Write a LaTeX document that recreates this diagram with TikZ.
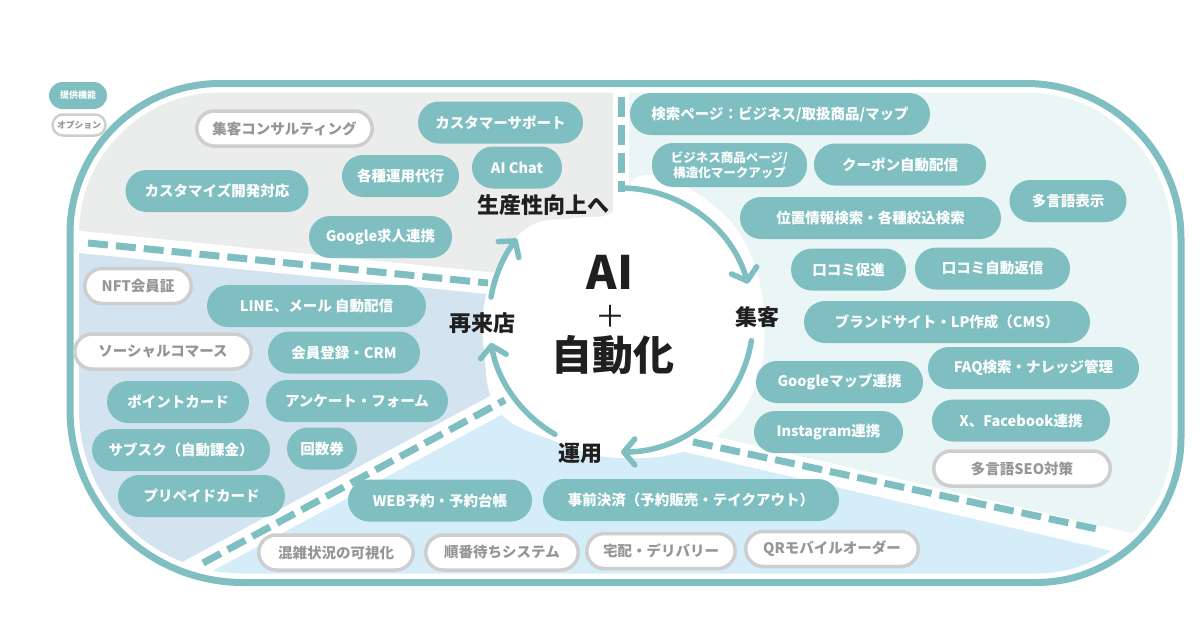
\documentclass[tikz,border=0pt]{standalone}
\usepackage{fontspec}
\setmainfont{Noto Sans CJK JP}
\usetikzlibrary{arrows.meta}
\definecolor{teal1}{RGB}{127,191,193}
\definecolor{optgray}{RGB}{206,206,206}
\definecolor{opttext}{RGB}{150,150,150}
\definecolor{zonegray}{RGB}{235,236,236}
\definecolor{zoneblue}{RGB}{211,227,240}
\definecolor{zonesky}{RGB}{212,237,248}
\definecolor{zoneteal}{RGB}{234,245,245}
\newcommand{\fs}[1]{\fontsize{#1}{#1}\selectfont}

\begin{document}
\begin{tikzpicture}[x=1pt, y=-1pt]

\tikzstyle{every node} = [inner sep=0pt]
\tikzstyle{func} = [rectangle, rounded corners=21pt, fill=teal1, text=white, minimum height=42pt, font=\fs{14.5}\bfseries]
\tikzstyle{opt} = [rectangle, rounded corners=17.5pt, draw=optgray, line width=3.5pt, fill=white, text=opttext, minimum height=35pt, font=\fs{14.5}\bfseries]
\tikzstyle{cyc} = [font=\fs{22}\bfseries, text=black!88]
\tikzstyle{gap} = [white, line width=22pt]
\tikzstyle{sep} = [teal1, line width=7pt, dash pattern=on 20pt off 8pt]
\tikzstyle{flow} = [teal1, line width=5.5pt, line cap=round, -{Straight Barb[length=11pt,width=26pt,line cap=round,round]}]

\useasboundingbox (0,0) rectangle (1200,630);

\begin{scope}
\clip (220,92.5) -- (1026,92.5) arc[start angle=-90, end angle=0, radius=146]
  -- (1172,437.5) arc[start angle=0, end angle=90, radius=136]
  -- (243,573.5) arc[start angle=90, end angle=180, radius=164]
  -- (79,233.5) arc[start angle=180, end angle=270, radius=141] -- cycle;
\fill[zonegray] (0,0) -- (617,0) -- (617,296) -- (0,234) -- cycle;
\fill[zoneteal] (617,0) -- (1200,0) -- (1200,560) -- (617,425) -- cycle;
\fill[zoneblue] (0,234) -- (617,296) -- (617,340) -- (0,673) -- cycle;
\fill[zonesky] (0,673) -- (617,340) -- (617,425) -- (1200,560) -- (1200,700) -- (0,700) -- cycle;
\end{scope}

\draw[gap] (60,240) -- (617,296);
\draw[gap, line width=16pt] (621,80) -- (621,215);
\draw[gap] (150,592) -- (617,340);
\draw[gap] (617,425) -- (1200,560);

\fill[white] plot[smooth cycle, tension=0.7] coordinates {(613,212) (640,176) (695,192) (745,243) (764,320) (752,395) (700,445) (620,458) (552,440) (498,410) (484,350) (485,300) (500,262) (530,226) (575,218)};

\draw[sep] (88,243) -- (488,283);
\draw[sep] (621,97) -- (621,192);
\draw[sep] (203,563) -- (505,400);
\draw[sep] (693,442) -- (1097,529);

\draw[teal1, line width=7pt] (220,83.5) -- (1026,83.5) arc[start angle=-90, end angle=0, radius=155]
  -- (1181,437.5) arc[start angle=0, end angle=90, radius=145]
  -- (243,582.5) arc[start angle=90, end angle=180, radius=173]
  -- (70,233.5) arc[start angle=180, end angle=270, radius=150] -- cycle;

\coordinate (o) at (621,320);
\draw[flow] (o) ++(-88:132) arc[start angle=-88, end angle=-16, radius=132];
\draw[flow] (o) ++(9:132) arc[start angle=9, end angle=90, radius=132];
\draw[flow] (o) ++(120:132) arc[start angle=120, end angle=170, radius=132];
\draw[flow] (o) ++(190:132) arc[start angle=190, end angle=218, radius=132];

\node[cyc] (up) at (543,205) {生産性向上へ};
\node[cyc] (in) at (757,317) {集客};
\node[cyc] (run) at (580,453) {運用};
\node[cyc] (back) at (482,323) {再来店};
\node[font=\fs{46}\bfseries, text=black!88] (ai) at (610,272) {AI};
\node[font=\fs{30}, text=black!88] (plus) at (610.5,316) {＋};
\node[font=\fs{41}\bfseries, text=black!88] (auto) at (612.5,355) {自動化};

\node[func, minimum width=58pt, minimum height=27pt, rounded corners=13.5pt, font=\fs{9}\bfseries] (k1) at (78,95.5) {提供機能};
\node[opt, minimum width=53pt, minimum height=21pt, rounded corners=10.5pt, line width=2.5pt, font=\fs{8.8}\bfseries] (k2) at (79,125) {オプション};

\node[opt, minimum width=175.5pt] (g1) at (284.5,128.5) {集客コンサルティング};
\node[func, minimum width=165pt] (g2) at (500.5,122.5) {カスタマーサポート};
\node[func, minimum width=117pt] (g3) at (400.5,176) {各種運用代行};
\node[func, minimum width=90pt] (g4) at (517,167.5) {AI Chat};
\node[func, minimum width=183pt] (g5) at (217,191) {カスタマイズ開発対応};
\node[func, minimum width=143pt] (g6) at (380.5,237) {Google求人連携};

\node[func, minimum width=300pt] (t1) at (780,114) {検索ページ：ビジネス/取扱商品/マップ};
\node[func, minimum width=155pt, minimum height=44pt, align=center, font=\fontsize{12.5}{15}\selectfont\bfseries] (t2) at (729.5,165) {ビジネス商品ページ/\\構造化マークアップ};
\node[func, minimum width=172pt] (t3) at (900,164.5) {クーポン自動配信};
\node[func, minimum width=261pt] (t4) at (870.5,218) {位置情報検索・各種絞込検索};
\node[func, minimum width=117pt] (t5) at (1068,201) {多言語表示};
\node[func, minimum width=115pt] (t6) at (848.5,269.5) {口コミ促進};
\node[func, minimum width=155pt] (t7) at (992.5,268.5) {口コミ自動返信};
\node[func, minimum width=286pt] (t8) at (947,322) {ブランドサイト・LP作成（CMS）};
\node[func, minimum width=167pt] (t9) at (839.5,382) {Googleマップ連携};
\node[func, minimum width=211pt] (t10) at (1033.5,368) {FAQ検索・ナレッジ管理};
\node[func, minimum width=149pt] (t11) at (828.5,432) {Instagram連携};
\node[func, minimum width=178pt] (t12) at (1021,420.5) {X、Facebook連携};
\node[opt, minimum width=176.5pt] (t13) at (1022,468.5) {多言語SEO対策};

\node[opt, minimum width=106.5pt] (b1) at (138,286) {NFT会員証};
\node[func, minimum width=219pt] (b2) at (316.5,306) {LINE、メール 自動配信};
\node[opt, minimum width=176.5pt] (b3) at (163,351.5) {ソーシャルコマース};
\node[func, minimum width=152pt] (b4) at (344,352.5) {会員登録・CRM};
\node[func, minimum width=142pt] (b5) at (178,402) {ポイントカード};
\node[func, minimum width=182pt] (b6) at (357,401) {アンケート・フォーム};
\node[func, minimum width=178pt] (b7) at (181,450) {サブスク（自動課金）};
\node[func, minimum width=70pt] (b8) at (322,448.5) {回数券};
\node[func, minimum width=167pt] (b9) at (201.5,496) {プリペイドカード};

\node[func, minimum width=184pt] (s1) at (440,500.5) {WEB予約・予約台帳};
\node[func, minimum width=296pt] (s2) at (691,500) {事前決済（予約販売・テイクアウト）};
\node[opt, minimum width=154.5pt] (s3) at (336,552.5) {混雑状況の可視化};
\node[opt, minimum width=152.5pt] (s4) at (502,552.5) {順番待ちシステム};
\node[opt, minimum width=148.5pt] (s5) at (661,551) {宅配・デリバリー};
\node[opt, minimum width=172.5pt] (s6) at (832,549) {QRモバイルオーダー};
\end{tikzpicture}
\end{document}
